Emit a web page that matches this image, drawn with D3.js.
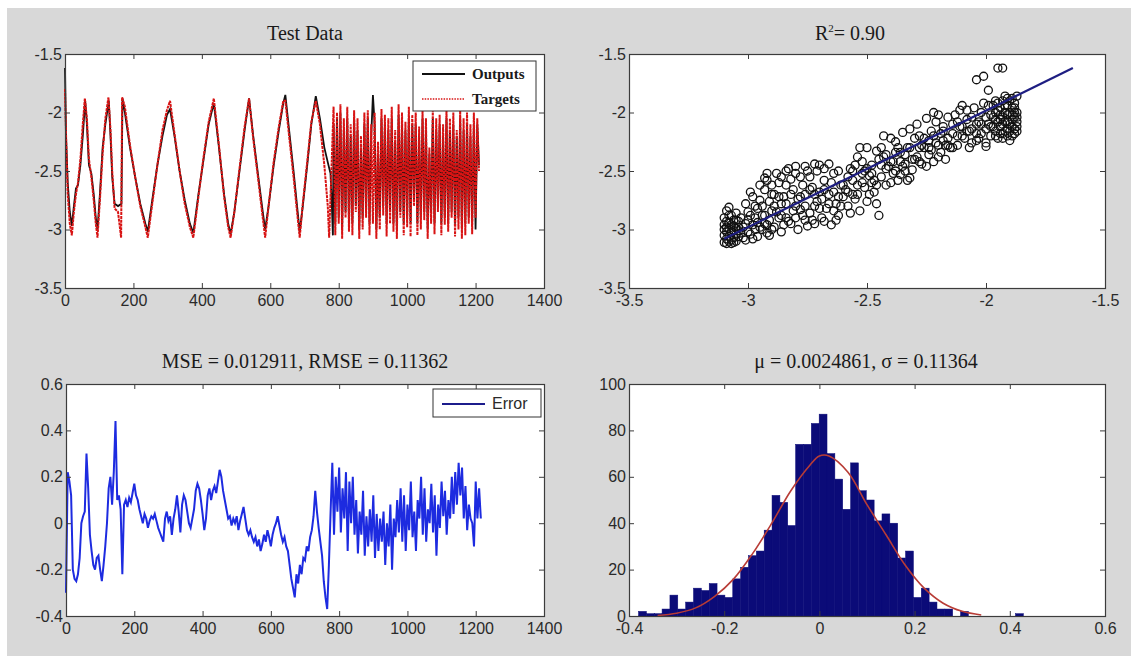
<!DOCTYPE html>
<html>
<head>
<meta charset="utf-8">
<title></title>
<script src="https://d3js.org/d3.v7.min.js"></script>
<style>
  body{margin:0;background:#fff;}
  svg{display:block;}
  .tick-label{font-family:"Liberation Sans",Arial,sans-serif;font-size:16px;fill:#2a2a2a;}
  .title{font-family:"Liberation Serif","Times New Roman",serif;font-size:20px;fill:#1a1a1a;}
  .leg-serif{font-family:"Liberation Serif","Times New Roman",serif;font-size:15px;font-weight:bold;fill:#1a1a1a;}
  .leg-sans{font-family:"Liberation Sans",Arial,sans-serif;font-size:16px;fill:#2a2a2a;}
</style>
</head>
<body>
<svg width="1131" height="656"></svg>
<script>
// ---------- values ----------
// test data: [sample, value] vertices
var outputs = [[0,-1.62],[3,-2.2],[8,-2.6],[14,-2.85],[20,-2.97],[26,-2.8],[32,-2.65],[38,-2.62],[45,-2.45],[52,-2.2],[59,-1.9],[64,-2.1],[70,-2.45],[77,-2.52],[84,-2.7],[90,-2.9],[95,-3.0],[102,-2.7],[110,-2.3],[118,-2.1],[128,-1.9],[133,-2.2],[138,-2.55],[145,-2.78],[155,-2.8],[165,-2.78],[168,-1.88],[175,-2.0],[190,-2.3],[205,-2.55],[220,-2.78],[235,-2.95],[242,-3.02],[255,-2.75],[270,-2.45],[285,-2.2],[298,-2.02],[307,-1.97],[320,-2.2],[335,-2.5],[350,-2.75],[365,-2.95],[375,-3.03],[390,-2.7],[405,-2.4],[420,-2.1],[435,-1.92],[450,-2.3],[465,-2.7],[477,-2.95],[484,-3.04],[495,-2.85],[510,-2.5],[525,-2.15],[538,-1.88],[550,-2.2],[565,-2.55],[578,-2.85],[585,-3.0],[595,-2.8],[610,-2.45],[625,-2.15],[638,-1.92],[644,-1.85],[655,-2.15],[668,-2.5],[680,-2.85],[686,-3.02],[695,-2.8],[708,-2.45],[720,-2.1],[733,-1.86],[745,-2.05],[758,-2.3],[770,-2.45],[776,-2.52],[780,-2.8],[783,-3.05],
  [785,-2.1],[790,-2.95],[795,-2.05],[800,-2.9],[805,-2.0],[810,-3.0],[815,-2.15],[820,-2.85],[825,-2.05],[830,-2.95],[835,-2.2],[840,-2.95],[845,-2.05],[850,-2.8],[855,-2.15],[860,-3.0],[865,-2.3],[870,-2.9],[875,-2.1],[880,-2.85],[885,-2.05],[890,-2.95],[895,-2.2],[900,-1.85],[905,-2.1],[910,-3.0],[915,-2.35],[920,-2.9],[925,-2.05],[930,-2.8],[935,-2.1],[940,-2.95],[945,-2.15],[950,-2.85],[955,-2.05],[960,-2.95],[965,-2.25],[970,-3.0],[975,-2.02],[980,-2.85],[985,-2.1],[990,-2.95],[995,-2.15],[1000,-2.9],[1005,-2.05],[1010,-2.95],[1015,-2.1],[1020,-2.75],[1025,-2.1],[1030,-2.95],[1035,-2.2],[1040,-2.9],[1045,-2.05],[1050,-2.85],[1055,-2.15],[1060,-3.0],[1065,-2.35],[1070,-2.85],[1075,-2.05],[1080,-2.95],[1085,-2.15],[1090,-2.8],[1095,-2.1],[1100,-2.95],[1105,-2.2],[1110,-2.9],[1115,-2.05],[1120,-2.95],[1125,-2.15],[1130,-2.85],[1135,-2.1],[1140,-2.95],[1145,-2.2],[1150,-2.9],[1155,-2.05],[1160,-3.0],[1165,-2.15],[1170,-2.95],[1175,-2.1],[1180,-2.9],[1185,-2.2],[1190,-2.95],[1195,-2.1],[1200,-3.0],[1205,-2.1],[1210,-2.45]];

var targets = [[0,-1.8],[4,-2.3],[8,-2.7],[14,-2.95],[20,-3.05],[26,-2.85],[32,-2.7],[38,-2.6],[45,-2.4],[52,-2.1],[58,-1.88],[64,-2.05],[70,-2.4],[77,-2.55],[84,-2.75],[90,-2.95],[95,-3.07],[102,-2.75],[110,-2.35],[118,-2.05],[127,-1.87],[133,-2.15],[138,-2.5],[145,-2.82],[155,-2.85],[164,-3.07],[167,-1.87],[175,-1.95],[190,-2.28],[205,-2.55],[220,-2.8],[235,-2.98],[242,-3.07],[255,-2.78],[270,-2.45],[285,-2.15],[298,-1.98],[307,-1.9],[320,-2.18],[335,-2.5],[350,-2.78],[365,-2.98],[375,-3.07],[390,-2.72],[405,-2.38],[420,-2.08],[435,-1.88],[450,-2.28],[465,-2.72],[477,-2.98],[484,-3.07],[495,-2.85],[510,-2.48],[525,-2.12],[538,-1.88],[550,-2.22],[565,-2.58],[578,-2.9],[585,-3.07],[595,-2.8],[610,-2.42],[625,-2.12],[638,-1.9],[644,-1.9],[655,-2.2],[668,-2.55],[680,-2.9],[686,-3.07],[695,-2.78],[708,-2.42],[720,-2.08],[733,-1.9],[745,-2.1],[758,-2.45],[768,-2.8],[772,-3.07],
  [785,-1.95],[790,-3.05],[795,-2.0],[800,-2.95],[805,-1.93],[810,-3.08],[815,-2.05],[820,-2.9],[825,-1.95],[830,-3.02],[835,-2.1],[840,-3.05],[845,-1.98],[850,-2.85],[855,-2.05],[860,-3.08],[865,-2.2],[870,-3.0],[875,-2.0],[880,-2.9],[885,-1.98],[890,-3.05],[895,-2.1],[900,-2.95],[905,-2.0],[910,-3.08],[915,-2.25],[920,-3.0],[925,-1.97],[930,-2.88],[935,-2.02],[940,-3.06],[945,-2.05],[950,-2.95],[955,-1.95],[960,-3.02],[965,-2.15],[970,-3.08],[975,-1.93],[980,-2.9],[985,-2.0],[990,-3.05],[995,-2.08],[1000,-2.98],[1005,-1.95],[1010,-3.06],[1015,-2.02],[1020,-2.8],[1025,-2.0],[1030,-3.05],[1035,-2.12],[1040,-3.0],[1045,-1.98],[1050,-2.92],[1055,-2.05],[1060,-3.08],[1065,-2.3],[1070,-2.95],[1075,-1.98],[1080,-3.04],[1085,-2.05],[1090,-2.85],[1095,-2.02],[1100,-3.05],[1105,-2.1],[1110,-2.96],[1115,-1.97],[1120,-3.02],[1125,-2.05],[1130,-2.9],[1135,-2.0],[1140,-3.06],[1145,-2.15],[1150,-3.0],[1155,-1.97],[1160,-3.08],[1165,-2.05],[1170,-3.05],[1175,-2.0],[1180,-2.95],[1185,-2.1],[1190,-3.04],[1195,-2.0],[1200,-2.9],[1205,-2.05],[1210,-2.5]];

var tsTicksX = [0,200,400,600,800,1000,1200,1400];
var tsTicksY = [-3.5,-3,-2.5,-2,-1.5];

// regression: [target, output]
var regPoints = [
  [-3.09,-3.08],[-3.08,-3.10],[-3.10,-3.05],[-3.07,-3.02],[-3.09,-2.98],[-3.08,-2.94],[-3.10,-2.90],[-3.06,-3.07],[-3.05,-3.04],[-3.07,-2.88],[-3.09,-2.84],[-3.08,-2.81],[-3.06,-2.97],[-3.10,-3.11],[-3.07,-3.09],[-3.05,-2.99],[-3.04,-3.06],[-3.09,-3.02],[-3.06,-2.92],[-3.08,-2.99],[-3.10,-2.96],[-3.05,-2.86],[-3.04,-2.93],[-3.07,-3.12],[-3.03,-3.03],[-3.08,-3.06],[-3.06,-3.01],[-3.09,-2.93],[-3.05,-3.10],[-3.04,-2.98],
  [-3.02,-3.07],[-3.01,-2.95],[-3.00,-2.85],[-2.99,-3.04],[-2.98,-2.72],[-2.97,-2.90],[-2.96,-3.06],[-2.95,-2.98],[-2.94,-2.80],[-2.93,-2.66],[-2.92,-3.03],[-2.91,-2.92],[-2.90,-2.84],[-3.01,-2.78],[-2.99,-2.88],[-2.97,-3.00],[-2.95,-2.75],[-2.93,-2.95],[-2.92,-2.58],[-2.91,-3.05],[-3.00,-3.02],[-2.98,-2.96],[-2.96,-2.82],[-2.94,-3.00],[-2.90,-2.70],[-2.92,-2.52],[-2.95,-2.62],[-2.99,-2.68],[-2.91,-2.76],[-2.93,-2.88],
  [-2.89,-2.98],[-2.88,-2.85],[-2.87,-2.60],[-2.86,-3.02],[-2.85,-2.72],[-2.84,-2.90],[-2.83,-2.48],[-2.82,-2.95],[-2.81,-2.66],[-2.80,-2.80],[-2.79,-3.00],[-2.78,-2.55],[-2.77,-2.88],[-2.76,-2.70],[-2.75,-2.97],[-2.88,-2.52],[-2.86,-2.78],[-2.84,-2.62],[-2.83,-2.93],[-2.81,-2.84],[-2.80,-2.46],[-2.79,-2.74],[-2.77,-2.62],[-2.76,-2.92],[-2.85,-2.96],[-2.87,-2.90],[-2.82,-2.57],[-2.78,-2.83],[-2.75,-2.50],[-2.89,-2.70],
  [-2.74,-2.86],[-2.73,-2.64],[-2.72,-2.95],[-2.71,-2.76],[-2.70,-2.45],[-2.69,-2.90],[-2.68,-2.58],[-2.67,-2.82],[-2.66,-2.70],[-2.65,-2.96],[-2.64,-2.52],[-2.63,-2.78],[-2.62,-2.88],[-2.61,-2.62],[-2.60,-2.72],[-2.74,-2.55],[-2.72,-2.80],[-2.70,-2.68],[-2.68,-2.93],[-2.66,-2.44],[-2.64,-2.84],[-2.62,-2.50],[-2.73,-2.92],[-2.69,-2.74],[-2.65,-2.60],[-2.63,-2.92],[-2.61,-2.80],[-2.71,-2.50],
  [-2.59,-2.66],[-2.58,-2.80],[-2.57,-2.48],[-2.56,-2.58],[-2.55,-2.74],[-2.54,-2.38],[-2.53,-2.84],[-2.52,-2.52],[-2.51,-2.64],[-2.50,-2.30],[-2.49,-2.70],[-2.48,-2.45],[-2.47,-2.58],[-2.46,-2.78],[-2.45,-2.40],[-2.58,-2.55],[-2.56,-2.70],[-2.54,-2.62],[-2.52,-2.42],[-2.50,-2.76],[-2.48,-2.60],[-2.46,-2.33],[-2.57,-2.86],[-2.53,-2.30],[-2.51,-2.50],[-2.47,-2.68],[-2.55,-2.45],[-2.49,-2.54],
  [-2.44,-2.55],[-2.43,-2.38],[-2.42,-2.62],[-2.41,-2.46],[-2.40,-2.22],[-2.39,-2.52],[-2.38,-2.34],[-2.37,-2.58],[-2.36,-2.42],[-2.35,-2.17],[-2.34,-2.50],[-2.33,-2.30],[-2.32,-2.56],[-2.31,-2.40],[-2.30,-2.22],[-2.44,-2.30],[-2.42,-2.48],[-2.40,-2.60],[-2.38,-2.25],[-2.36,-2.53],[-2.34,-2.36],[-2.32,-2.14],[-2.31,-2.49],[-2.43,-2.20],[-2.39,-2.42],[-2.37,-2.30],[-2.35,-2.46],[-2.33,-2.58],
  [-2.29,-2.38],[-2.28,-2.20],[-2.27,-2.44],[-2.26,-2.30],[-2.25,-2.05],[-2.24,-2.36],[-2.23,-2.16],[-2.22,-2.42],[-2.21,-2.26],[-2.20,-2.02],[-2.19,-2.34],[-2.18,-2.12],[-2.17,-2.40],[-2.16,-2.22],[-2.15,-2.30],[-2.29,-2.10],[-2.27,-2.28],[-2.25,-2.46],[-2.23,-2.32],[-2.21,-2.08],[-2.19,-2.18],[-2.17,-2.28],[-2.16,-2.04],[-2.28,-2.42],[-2.24,-2.24],[-2.22,-2.00],[-2.20,-2.38],[-2.18,-2.24],
  [-2.14,-2.18],[-2.13,-2.02],[-2.12,-2.28],[-2.11,-2.12],[-2.10,-1.94],[-2.09,-2.22],[-2.08,-2.06],[-2.07,-2.30],[-2.06,-2.14],[-2.05,-1.96],[-2.04,-2.24],[-2.03,-2.08],[-2.02,-2.18],[-2.01,-1.92],[-2.00,-2.26],[-1.99,-2.10],[-1.98,-2.02],[-2.14,-2.30],[-2.12,-2.08],[-2.10,-2.20],[-2.08,-1.98],[-2.06,-2.26],[-2.04,-2.10],[-2.02,-2.00],[-2.00,-2.14],[-1.98,-2.20],[-2.11,-1.98],[-2.07,-2.16],[-2.03,-2.22],[-1.99,-1.94],
  [-1.97,-2.12],[-1.96,-2.00],[-1.95,-2.22],[-1.94,-2.06],[-1.93,-1.90],[-1.92,-2.16],[-1.91,-2.02],[-1.90,-2.10],[-1.89,-1.96],[-1.88,-2.04],[-1.87,-2.12],[-1.97,-1.94],[-1.95,-2.08],[-1.93,-2.18],[-1.91,-1.88],[-1.89,-2.20],[-1.88,-1.92],[-1.87,-2.00],[-1.96,-2.16],[-1.94,-1.96],[-1.92,-2.08],[-1.90,-2.24],[-1.88,-2.14],[-1.87,-1.86],[-1.95,-1.98],[-1.93,-2.04],[-1.91,-2.14],[-1.89,-2.06],[-1.90,-1.90],[-1.92,-1.86],[-1.94,-2.12],[-1.96,-2.06],[-1.88,-2.00],[-1.89,-1.88],[-1.87,-2.08],[-1.91,-2.20],[-1.93,-2.10],[-1.90,-2.00],[-1.92,-1.94],[-1.88,-2.18],
  [-3.10,-3.00],[-3.09,-3.12],[-3.08,-2.88],[-3.07,-2.96],[-3.06,-3.11],[-3.05,-2.92],[-3.04,-3.01],[-3.03,-2.90],[-3.02,-2.98],[-3.01,-3.09],[-3.00,-2.92],[-2.98,-3.08],[-2.97,-2.80],[-2.96,-2.94],[-2.94,-2.88],[-2.92,-2.96],[-2.90,-3.00],[-2.89,-2.80],[-2.87,-2.72],[-2.86,-2.88],
  [-2.84,-2.78],[-2.82,-2.70],[-2.80,-2.90],[-2.78,-2.72],[-2.76,-2.80],[-2.74,-2.66],[-2.72,-2.70],[-2.70,-2.82],[-2.68,-2.66],[-2.66,-2.78],[-2.64,-2.68],[-2.62,-2.72],[-2.60,-2.62],[-2.58,-2.68],[-2.56,-2.50],[-2.54,-2.70],[-2.52,-2.60],[-2.50,-2.48],[-2.48,-2.52],[-2.46,-2.62],[-2.44,-2.45],[-2.42,-2.36],[-2.40,-2.42],[-2.38,-2.50],[-2.36,-2.34],[-2.34,-2.44],[-2.32,-2.30],[-2.30,-2.40],[-2.28,-2.30],[-2.26,-2.22],[-2.24,-2.30],[-2.22,-2.20],[-2.20,-2.28],[-2.18,-2.16],[-2.16,-2.28],[-2.14,-2.10],[-2.12,-2.20],[-2.10,-2.12],[-2.08,-2.16],[-2.06,-2.04],[-2.04,-2.18],[-2.02,-2.10],[-2.00,-2.04],[-1.98,-2.12],
  [-1.97,-2.04],[-1.96,-2.20],[-1.95,-1.92],[-1.94,-2.02],[-1.93,-2.22],[-1.92,-2.00],[-1.91,-1.94],[-1.90,-2.16],[-1.89,-2.12],[-1.88,-1.96],[-1.87,-2.04],[-1.87,-2.16],[-1.89,-2.02],[-1.91,-2.08],[-1.94,-2.18],[-1.96,-1.90],
  [-2.93,-2.56],[-2.90,-2.62],[-2.86,-2.55],[-2.84,-2.50],[-2.80,-2.52],[-2.76,-2.46],[-2.72,-2.44],[-2.68,-2.48],
  [-2.45,-2.88],[-2.04,-1.72],[-2.01,-1.69],[-1.95,-1.62],[-1.93,-1.62],[-1.99,-1.81],[-2.00,-2.29]];
var regFit = [[-3.10,-3.08],[-1.635,-1.62]];
var regTicks = [-3.5,-3,-2.5,-2,-1.5];

// error, one value every 5 samples from sample 0
var errorStep = 5;
var errors = [-0.30,0.22,0.18,0.12,-0.20,-0.24,-0.25,-0.22,-0.15,0.00,0.03,0.05,0.30,0.15,-0.05,-0.12,-0.18,-0.20,-0.15,-0.14,
  -0.20,-0.25,-0.18,-0.10,0.00,0.15,0.20,0.08,0.22,0.44,0.10,0.12,0.06,-0.22,0.08,0.10,0.07,0.11,0.09,0.13,
  0.17,0.12,0.10,0.06,0.03,0.00,0.04,0.02,-0.02,0.01,0.03,0.02,0.04,0.01,-0.02,-0.04,-0.06,-0.08,0.02,0.05,
  0.01,0.03,-0.05,0.02,0.06,0.12,0.05,-0.04,0.08,0.12,0.10,0.05,0.00,-0.02,0.02,0.06,0.14,0.17,0.15,0.10,
  0.04,-0.03,0.02,0.12,0.15,0.10,0.14,0.16,0.13,0.18,0.23,0.20,0.14,0.10,0.06,0.02,0.03,-0.01,0.02,0.00,
  0.03,-0.03,0.01,0.04,0.07,0.02,-0.03,-0.05,-0.03,-0.06,-0.08,-0.06,-0.10,-0.07,-0.12,-0.09,-0.05,-0.08,-0.03,-0.06,
  -0.10,-0.05,-0.02,0.00,0.03,-0.01,-0.05,-0.08,-0.06,-0.10,-0.12,-0.18,-0.24,-0.28,-0.32,-0.22,-0.26,-0.18,-0.22,-0.15,
  -0.16,-0.10,-0.12,-0.06,-0.03,0.03,0.14,0.05,-0.02,-0.08,-0.14,-0.25,-0.32,-0.37,-0.18,0.05,0.26,-0.05,0.20,0.05,
  0.24,-0.04,0.15,0.02,0.22,-0.12,0.18,0.00,0.20,-0.05,0.10,-0.13,0.05,-0.05,0.14,-0.14,0.03,-0.10,0.06,-0.08,
  0.12,-0.15,0.04,-0.12,0.02,-0.08,0.05,-0.18,0.00,-0.10,0.08,-0.20,0.02,-0.06,0.10,-0.04,0.15,-0.08,0.12,-0.12,
  0.08,-0.03,0.18,-0.06,0.05,-0.12,0.10,0.02,0.20,-0.05,0.15,-0.08,0.06,0.00,0.17,-0.04,0.12,-0.14,0.08,-0.02,
  0.18,0.03,0.14,-0.05,0.10,0.02,0.20,0.04,0.22,0.08,0.26,0.12,0.24,0.02,0.16,-0.03,0.08,0.02,0.00,-0.10,
  0.18,0.02,0.15,0.02];
var errTicksY = [-0.4,-0.2,0,0.2,0.4,0.6];

// error histogram, 50 bins
var histStart = -0.38;
var histWidth = 0.0165;
var histCounts = [2,1,1,3,9,3,6,12,11,14,9,8,16,21,26,28,37,52,49,39,
  74,74,83,87,70,59,46,66,54,50,41,44,40,25,28,8,12,6,3,3,
  0,2,0,0,0,0,0,0,1,0];
var normalCurve = [[-0.34,0.2],[-0.30,1.2],[-0.26,3.5],[-0.22,8.5],[-0.18,16],[-0.14,27],[-0.10,40],[-0.06,54],[-0.02,65],[0.00,69],[0.02,69],[0.06,62],[0.10,48],[0.14,35],[0.18,22],[0.22,12],[0.26,5.5],[0.30,2],[0.34,0.4]];
var histTicksX = [-0.4,-0.2,0,0.2,0.4,0.6];
var histTicksY = [0,20,40,60,80,100];

// ---------- drawing ----------
var svg = d3.select('svg');
svg.append('rect').attr('x', 7).attr('y', 8).attr('width', 1124).attr('height', 648).attr('fill', '#d8d8d8');

function panel(box, xDomain, yDomain, xTicks, yTicks) {
  var x = d3.scaleLinear().domain(xDomain).range([box[0], box[2]]);
  var y = d3.scaleLinear().domain(yDomain).range([box[3], box[1]]);
  svg.append('rect')
    .attr('x', box[0]).attr('y', box[1])
    .attr('width', box[2] - box[0]).attr('height', box[3] - box[1])
    .attr('fill', '#fff');
  var g = svg.append('g');
  return {x: x, y: y, g: g, box: box, xTicks: xTicks, yTicks: yTicks};
}

function frame(p) {
  var b = p.box;
  var fmt = function(d){ return String(d); };
  function tidy(sel){
    sel.select('.domain').remove();
    sel.attr('color', '#3c3c3c');
    sel.selectAll('text').attr('class', 'tick-label');
  }
  svg.append('g').attr('transform', 'translate(0,' + b[3] + ')')
    .call(d3.axisBottom(p.x).tickValues(p.xTicks).tickSize(-5).tickPadding(7).tickFormat(fmt)).call(tidy);
  svg.append('g').attr('transform', 'translate(0,' + b[1] + ')')
    .call(d3.axisTop(p.x).tickValues(p.xTicks).tickSize(-5).tickFormat('')).call(tidy);
  svg.append('g').attr('transform', 'translate(' + b[0] + ',0)')
    .call(d3.axisLeft(p.y).tickValues(p.yTicks).tickSize(-5).tickPadding(3).tickFormat(fmt)).call(tidy);
  svg.append('g').attr('transform', 'translate(' + b[2] + ',0)')
    .call(d3.axisRight(p.y).tickValues(p.yTicks).tickSize(-5).tickFormat('')).call(tidy);
  svg.append('rect')
    .attr('x', b[0] + 0.5).attr('y', b[1] + 0.5)
    .attr('width', b[2] - b[0]).attr('height', b[3] - b[1])
    .attr('fill', 'none').attr('stroke', '#3c3c3c').attr('stroke-width', 1.2);
}

function title(x, y, txt) {
  return svg.append('text').attr('class', 'title')
    .attr('x', x).attr('y', y).attr('text-anchor', 'middle').text(txt);
}

// ---- test data ----
var p1 = panel([65, 54, 544, 288], [0, 1400], [-3.5, -1.5], tsTicksX, tsTicksY);
var line1 = d3.line().x(function(d){ return p1.x(d[0]); }).y(function(d){ return p1.y(d[1]); });
p1.g.append('path').datum(outputs).attr('d', line1)
  .attr('fill', 'none').attr('stroke', '#111').attr('stroke-width', 1.8);
p1.g.append('path').datum(targets).attr('d', line1)
  .attr('fill', 'none').attr('stroke', '#d81414').attr('stroke-width', 2)
  .attr('stroke-dasharray', '3,0.8');
frame(p1);
title(305, 40, 'Test Data');

var leg1 = svg.append('g');
leg1.append('rect').attr('x', 413).attr('y', 61).attr('width', 123).attr('height', 50)
  .attr('fill', '#fff').attr('stroke', '#333');
leg1.append('line').attr('x1', 422).attr('x2', 465).attr('y1', 74).attr('y2', 74)
  .attr('stroke', '#111').attr('stroke-width', 1.8);
leg1.append('line').attr('x1', 422).attr('x2', 465).attr('y1', 99).attr('y2', 99)
  .attr('stroke', '#d81414').attr('stroke-width', 1.4).attr('stroke-dasharray', '1.5,1.2');
leg1.append('text').attr('class', 'leg-serif').attr('x', 472).attr('y', 79).text('Outputs');
leg1.append('text').attr('class', 'leg-serif').attr('x', 472).attr('y', 104).text('Targets');

// ---- regression ----
var p2 = panel([629, 54, 1105, 288], [-3.5, -1.5], [-3.5, -1.5], regTicks, regTicks);
p2.g.selectAll('circle').data(regPoints).enter().append('circle')
  .attr('cx', function(d){ return p2.x(d[0]); })
  .attr('cy', function(d){ return p2.y(d[1]); })
  .attr('r', 4)
  .attr('fill', 'none').attr('stroke', '#111').attr('stroke-width', 1.3);
p2.g.append('line')
  .attr('x1', p2.x(regFit[0][0])).attr('y1', p2.y(regFit[0][1]))
  .attr('x2', p2.x(regFit[1][0])).attr('y2', p2.y(regFit[1][1]))
  .attr('stroke', '#1e1e82').attr('stroke-width', 2.2);
frame(p2);
var t2 = svg.append('text').attr('class', 'title').attr('x', 850).attr('y', 40).attr('text-anchor', 'middle');
t2.append('tspan').text('R');
t2.append('tspan').attr('dy', -8).attr('font-size', '11px').text('2');
t2.append('tspan').attr('dy', 8).text('= 0.90');

// ---- error ----
var p3 = panel([66, 384, 544, 616], [0, 1400], [-0.4, 0.6], tsTicksX, errTicksY);
var line3 = d3.line().x(function(d, i){ return p3.x(i * errorStep); }).y(function(d){ return p3.y(d); });
p3.g.append('path').datum(errors).attr('d', line3)
  .attr('fill', 'none').attr('stroke', '#1d2be0').attr('stroke-width', 2);
frame(p3);
title(305, 368, 'MSE = 0.012911, RMSE = 0.11362');

var leg3 = svg.append('g');
leg3.append('rect').attr('x', 433).attr('y', 389).attr('width', 108).attr('height', 28)
  .attr('fill', '#fff').attr('stroke', '#333');
leg3.append('line').attr('x1', 442).attr('x2', 485).attr('y1', 404).attr('y2', 404)
  .attr('stroke', '#1c1c8c').attr('stroke-width', 2);
leg3.append('text').attr('class', 'leg-sans').attr('x', 492).attr('y', 409).text('Error');

// ---- histogram ----
var p4 = panel([629, 384, 1105, 616], [-0.4, 0.6], [0, 100], histTicksX, histTicksY);
var bins = histCounts.map(function(c, i){ return {c: c, i: i}; })
  .filter(function(d){ return d.c > 0; });
p4.g.selectAll('rect.bin').data(bins).enter().append('rect').attr('class', 'bin')
  .attr('x', function(d){ return p4.x(histStart + d.i * histWidth); })
  .attr('width', function(d){ return p4.x(histStart + (d.i + 1) * histWidth) - p4.x(histStart + d.i * histWidth); })
  .attr('y', function(d){ return p4.y(d.c); })
  .attr('height', function(d){ return p4.y(0) - p4.y(d.c); })
  .attr('fill', '#0b0b78').attr('stroke', '#0b0b78').attr('stroke-width', 0.5);
var line4 = d3.line().curve(d3.curveCatmullRom)
  .x(function(d){ return p4.x(d[0]); }).y(function(d){ return p4.y(d[1]); });
p4.g.append('path').datum(normalCurve).attr('d', line4)
  .attr('fill', 'none').attr('stroke', '#b83c36').attr('stroke-width', 1.6);
frame(p4);
title(866, 368, '\u03bc = 0.0024861, \u03c3 = 0.11364');
</script>
</body>
</html>
